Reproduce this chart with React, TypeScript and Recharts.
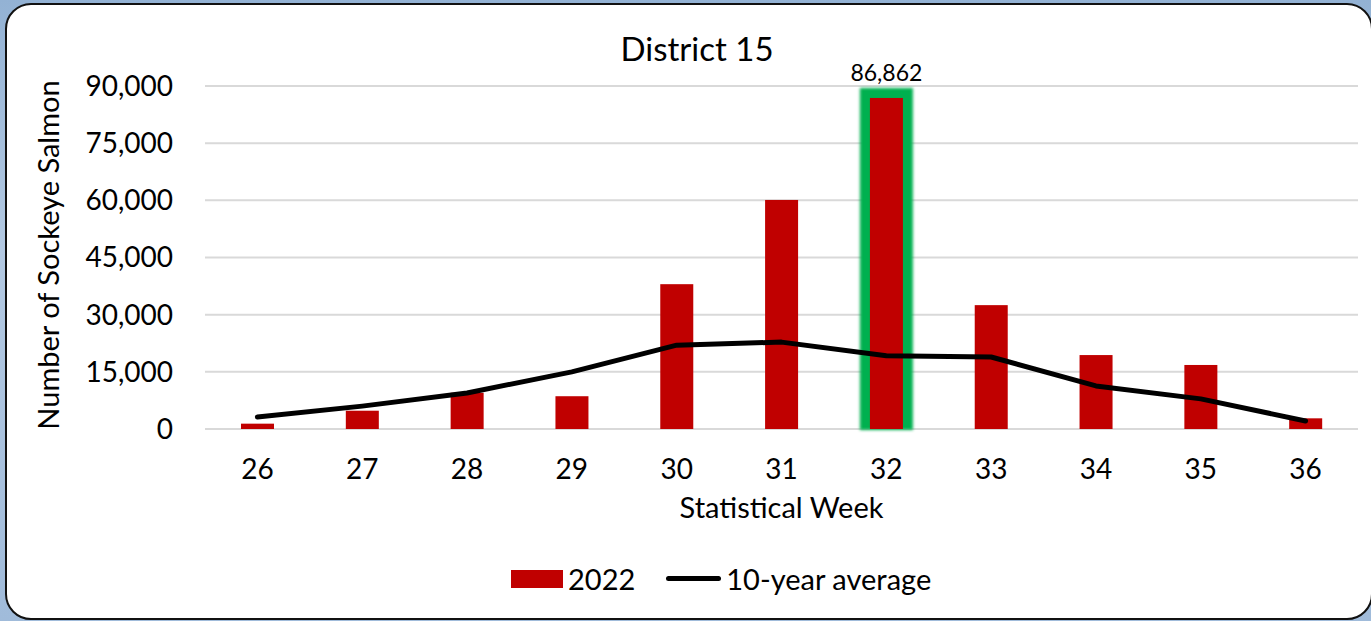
import { ComposedChart, Bar, Line, XAxis, YAxis, CartesianGrid, Legend, LabelList } from "recharts";

const weeks = ["26", "27", "28", "29", "30", "31", "32", "33", "34", "35", "36"];
const catch2022 = [1400, 4800, 9500, 8600, 38000, 60100, 86862, 32500, 19400, 16800, 2800];
const tenYearAvg = [3150, 6000, 9450, 15000, 22000, 22800, 19200, 18900, 11300, 7900, 2100];
const yTicks = [0, 15000, 30000, 45000, 60000, 75000, 90000];
const highlightWeek = "32";

const data = weeks.map((w, i) => ({ week: w, y2022: catch2022[i], avg: tenYearAvg[i] }));

const FONT = "Lato, 'Open Sans', sans-serif";
const RED = "#C00000";
const GREEN = "#00B050";

const fmt = (v: number) => v.toLocaleString("en-US");

function GlowBar(props: any) {
  const { x, y, width, height, payload } = props;
  if (payload && payload.week === highlightWeek) {
    return (
      <g>
        <rect x={x - 10} y={y - 10} width={width + 20} height={height + 11} fill={GREEN} filter="url(#glow)" />
        <rect x={x} y={y} width={width} height={height} fill={RED} />
      </g>
    );
  }
  return <rect x={x} y={y} width={width} height={height} fill={RED} />;
}

function PeakLabel(props: any) {
  const { x, y, width, index, value } = props;
  if (weeks[index] !== highlightWeek) return null;
  return (
    <text x={x + width / 2} y={y - 26} textAnchor="middle" dominantBaseline="central" fontSize={23} fill="#000" fontFamily={FONT}>
      {fmt(value)}
    </text>
  );
}

function LegendBox() {
  return (
    <div style={{ display: "flex", alignItems: "center", fontFamily: FONT, fontSize: 29, color: "#000", height: 45 }}>
      <span style={{ display: "inline-block", width: 52, height: 18, background: RED, marginRight: 5 }} />
      <span>2022</span>
      <span style={{ display: "inline-block", width: 55, height: 5, borderRadius: 3, background: "#000", marginLeft: 31, marginRight: 5 }} />
      <span>10-year average</span>
    </div>
  );
}

export default function App() {
  return (
    <div style={{ position: "absolute", left: 0, top: 0, width: 1371, height: 621, background: "linear-gradient(180deg, #93b2d4 0%, #b3c9e2 40%, #a0bbda 100%)", overflow: "hidden" }}>
      <div style={{ position: "absolute", left: 5, top: 3, width: 1364, height: 613, background: "#fff", border: "2px solid #111", borderRadius: 26 }} />
      <div style={{ position: "absolute", left: 0, top: 29, width: 1394, textAlign: "center", fontFamily: FONT, fontSize: 33, color: "#000", lineHeight: "38px" }}>
        District 15
      </div>
      <div style={{ position: "absolute", left: 0, top: 0 }}>
        <ComposedChart width={1371} height={621} data={data} margin={{ top: 86, right: 13, left: 85, bottom: 20 }}>
          <defs>
            <filter id="glow" x="-50%" y="-10%" width="200%" height="120%">
              <feGaussianBlur stdDeviation="1.8" />
            </filter>
          </defs>
          <CartesianGrid vertical={false} stroke="#d9d9d9" strokeWidth={2} />
          <XAxis
            dataKey="week"
            height={127}
            axisLine={false}
            tickLine={false}
            tickMargin={24}
            tick={{ fontSize: 28, fill: "#000", fontFamily: FONT }}
            label={{ value: "Statistical Week", position: "insideBottom", offset: 38, fontSize: 29, fill: "#000", fontFamily: FONT }}
          />
          <YAxis
            width={120}
            domain={[0, 90000]}
            ticks={yTicks}
            tickFormatter={fmt}
            axisLine={false}
            tickLine={false}
            tickMargin={26}
            tick={{ fontSize: 28, fill: "#000", fontFamily: FONT }}
            label={{
              content: () => (
                <text x={47} y={255} transform="rotate(-90 47 255)" textAnchor="middle" dominantBaseline="central" fontSize={29} fill="#000" fontFamily={FONT}>
                  Number of Sockeye Salmon
                </text>
              ),
            }}
          />
          <Legend verticalAlign="bottom" content={() => <LegendBox />} wrapperStyle={{ left: 511, width: "auto", height: 45, bottom: 20 }} />
          <Bar dataKey="y2022" name="2022" fill={RED} barSize={33} shape={<GlowBar />} isAnimationActive={false}>
            <LabelList dataKey="y2022" content={<PeakLabel />} />
          </Bar>
          <Line type="linear" dataKey="avg" name="10-year average" stroke="#000" strokeWidth={5} strokeLinecap="round" strokeLinejoin="round" dot={false} activeDot={false} isAnimationActive={false} />
        </ComposedChart>
      </div>
    </div>
  );
}
